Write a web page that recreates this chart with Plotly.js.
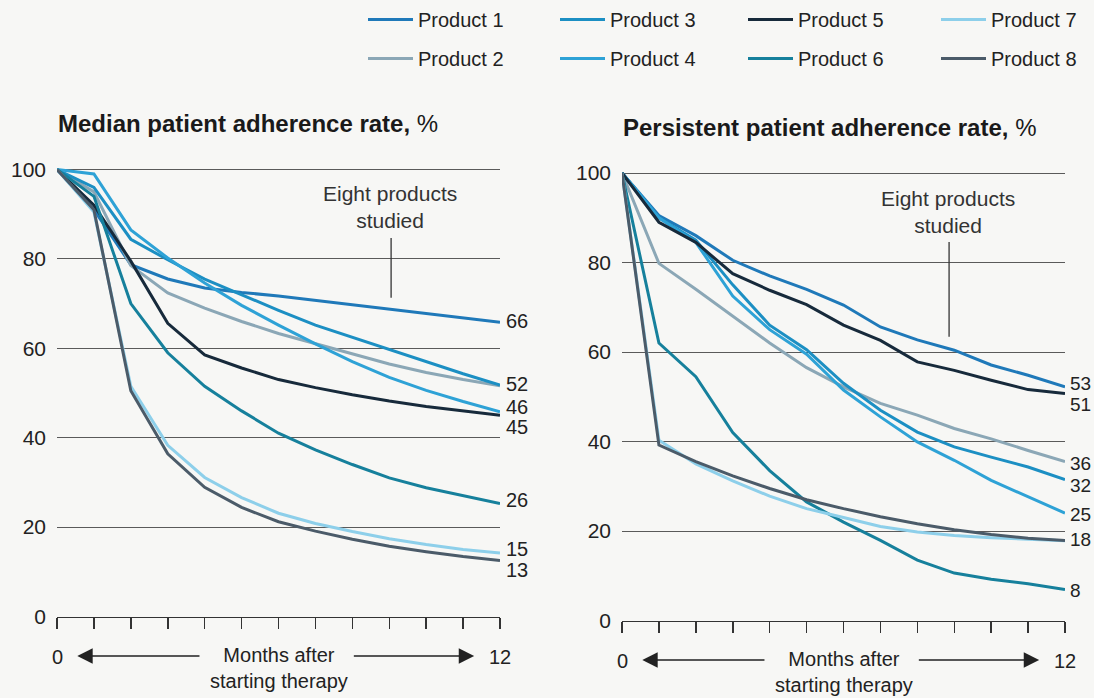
<!DOCTYPE html>
<html>
<head>
<meta charset="utf-8">
<script src="https://cdn.plot.ly/plotly-3.0.1.min.js"></script>
<style>
  html, body { margin: 0; padding: 0; background: #f7f7f5; }
  #chart { width: 1094px; height: 698px; }
</style>
</head>
<body>
<div id="chart"></div>
<script>
// ---------------- DATA ----------------
const months = [0, 1, 2, 3, 4, 5, 6, 7, 8, 9, 10, 11, 12];
const productNames = ['Product 1', 'Product 2', 'Product 3', 'Product 4', 'Product 5', 'Product 6', 'Product 7', 'Product 8'];

// Median patient adherence rate, %
const medianP1 = [100, 91, 78.7, 75.5, 73.5, 72.5, 71.7, 70.7, 69.7, 68.7, 67.7, 66.7, 65.8];
const medianP2 = [100, 95, 78.5, 72.4, 69, 66, 63.3, 61, 58.7, 56.5, 54.6, 53, 51.6];
const medianP3 = [100, 96, 84.4, 79.8, 75.5, 72, 68.5, 65.2, 62.5, 59.8, 57, 54.3, 51.8];
const medianP4 = [100, 99, 86.5, 80.2, 74.6, 69.6, 65.2, 61, 57, 53.5, 50.6, 48.1, 45.8];
const medianP5 = [100, 92, 79.5, 65.6, 58.5, 55.6, 53, 51.2, 49.6, 48.2, 47, 46, 45];
const medianP6 = [100, 94, 70, 59, 51.5, 46, 41, 37.3, 34, 31, 28.8, 27, 25.3];
const medianP7 = [100, 90.5, 51.5, 38.3, 31.1, 26.6, 23.1, 20.8, 19, 17.4, 16.1, 15, 14.2];
const medianP8 = [100, 91, 50.5, 36.4, 28.9, 24.4, 21.2, 19.1, 17.3, 15.7, 14.5, 13.4, 12.5];

// Persistent patient adherence rate, %
const persistentP1 = [100, 90.5, 86, 80.5, 77, 74, 70.5, 65.6, 62.7, 60.4, 57.1, 54.8, 52.2];
const persistentP2 = [100, 79.8, 74, 68, 62, 56.5, 52.2, 48.5, 45.9, 42.9, 40.6, 38, 35.5];
const persistentP3 = [100, 90, 85, 75, 66, 60.5, 53, 47, 42.1, 38.8, 36.5, 34.3, 31.5];
const persistentP4 = [100, 90, 84.5, 72.5, 65, 59.5, 51.5, 45.5, 39.9, 35.8, 31.3, 27.6, 24];
const persistentP5 = [100, 89, 84.5, 77.5, 73.8, 70.6, 66, 62.6, 57.8, 55.9, 53.7, 51.6, 50.7];
const persistentP6 = [100, 62, 54.5, 42, 33.5, 26.5, 22, 17.9, 13.5, 10.6, 9.2, 8.2, 6.9];
const persistentP7 = [100, 40.3, 35, 31.2, 27.8, 25, 23, 21, 19.8, 19, 18.5, 18.1, 17.8];
const persistentP8 = [100, 39.2, 35.5, 32.3, 29.5, 27, 25, 23.2, 21.6, 20.3, 19.2, 18.4, 17.9];

const medianEndLabels = ['66', '52', '46', '45', '26', '15', '13'];
const persistentEndLabels = ['53', '51', '36', '32', '25', '18', '8'];
const yTickValues = [0, 20, 40, 60, 80, 100];
const monthTicks = months;

const medianSeries = [medianP1, medianP2, medianP3, medianP4, medianP5, medianP6, medianP7, medianP8];
const persistentSeries = [persistentP1, persistentP2, persistentP3, persistentP4, persistentP5, persistentP6, persistentP7, persistentP8];

// ---------------- STYLE ----------------
const FONT = 'Liberation Sans, Arial, Helvetica, sans-serif';
const TXT = '#222222';
const colors = ['#1f79b9', '#8ba7b6', '#1c8fc3', '#2ea2d6', '#172a3b', '#16809c', '#8dcfea', '#4b5b69'];
// vertical pixel nudges for end labels (layout only)
const medianLabelShift = [0, 0, 4, -12, 0, 0, -12];
const persistentLabelShift = [0, -12, -4, -8, -6, 0, -6];
// legend column for each product (4 columns x 2 rows)
const legendIds = ['legend', 'legend', 'legend2', 'legend2', 'legend3', 'legend3', 'legend4', 'legend4'];

const W = 1094, H = 698;
const px = v => v / W;
const py = v => 1 - v / H;

const traces = [];
productNames.forEach((name, i) => {
  traces.push({
    x: months, y: medianSeries[i], xaxis: 'x', yaxis: 'y',
    type: 'scatter', mode: 'lines', name: name,
    legend: legendIds[i], legendgroup: name, showlegend: true,
    line: { color: colors[i], width: 3 }, hoverinfo: 'skip'
  });
});
productNames.forEach((name, i) => {
  traces.push({
    x: months, y: persistentSeries[i], xaxis: 'x2', yaxis: 'y2',
    type: 'scatter', mode: 'lines', name: name,
    legendgroup: name, showlegend: false,
    line: { color: colors[i], width: 3 }, hoverinfo: 'skip'
  });
});

function xAxis(domain, anchor) {
  return {
    domain: domain, anchor: anchor, range: [0, 12], fixedrange: true,
    showgrid: false, zeroline: false, showline: true, linecolor: '#333', linewidth: 1.5,
    ticks: 'outside', ticklen: 11, tickwidth: 1.5, tickcolor: '#333',
    tickvals: monthTicks, showticklabels: false
  };
}
function yAxis(domain, anchor) {
  return {
    domain: domain, anchor: anchor, range: [0, 102], fixedrange: true,
    tickvals: yTickValues, showgrid: true, gridcolor: '#5a5a5a', gridwidth: 1,
    zeroline: false, showline: false, ticks: '', ticklabelstandoff: 10,
    tickfont: { family: FONT, size: 21, color: TXT }
  };
}

const annotations = [];
const ann = (o) => annotations.push(Object.assign({
  showarrow: false, font: { family: FONT, size: 20, color: TXT }
}, o));

// Panel titles
ann({ xref: 'paper', yref: 'paper', x: px(56), y: py(124), xanchor: 'left', yanchor: 'middle',
  text: '<b>Median patient adherence rate,</b> %', font: { family: FONT, size: 24, color: '#1a1a1a' } });
ann({ xref: 'paper', yref: 'paper', x: px(621), y: py(128), xanchor: 'left', yanchor: 'middle',
  text: '<b>Persistent patient adherence rate,</b> %', font: { family: FONT, size: 24, color: '#1a1a1a' } });

// "Eight products studied"
ann({ xref: 'x', yref: 'y', x: 9.02, y: 91.6, xanchor: 'center', yanchor: 'middle', text: 'Eight products<br>studied', font: { family: FONT, size: 21, color: '#333' } });
ann({ xref: 'x2', yref: 'y2', x: 8.83, y: 91.3, xanchor: 'center', yanchor: 'middle', text: 'Eight products<br>studied', font: { family: FONT, size: 21, color: '#333' } });

// End labels
medianEndLabels.forEach((t, i) => ann({ xref: 'x', yref: 'y', x: 12, y: Number(t), xanchor: 'left', yanchor: 'middle', xshift: 4, yshift: medianLabelShift[i], text: t }));
persistentEndLabels.forEach((t, i) => ann({ xref: 'x2', yref: 'y2', x: 12, y: Number(t), xanchor: 'left', yanchor: 'middle', xshift: 3, yshift: persistentLabelShift[i], text: t, font: { family: FONT, size: 19, color: TXT } }));

// Bottom axis captions
[['x', 657, 668], ['x2', 661, 672]].forEach(([xr, yRow, yText]) => {
  ann({ xref: xr, yref: 'paper', x: 0, y: py(yRow), xanchor: 'center', yanchor: 'middle', text: '0' });
  ann({ xref: xr, yref: 'paper', x: 12, y: py(yRow), xanchor: 'center', yanchor: 'middle', text: '12' });
  ann({ xref: xr, yref: 'paper', x: 6, y: py(yText), xanchor: 'center', yanchor: 'middle', text: 'Months after<br>starting therapy' });
  annotations.push({ xref: xr, yref: 'paper', x: 0.55, y: py(yRow - 1), axref: xr, ax: 3.9, ayref: 'pixel', ay: 0, text: '', showarrow: true, arrowhead: 2, arrowsize: 2.2, arrowwidth: 1.4, arrowcolor: '#222' });
  annotations.push({ xref: xr, yref: 'paper', x: 11.3, y: py(yRow - 1), axref: xr, ax: 8.0, ayref: 'pixel', ay: 0, text: '', showarrow: true, arrowhead: 2, arrowsize: 2.2, arrowwidth: 1.4, arrowcolor: '#222' });
});

const shapes = [
  { type: 'line', xref: 'x', yref: 'y', x0: 9.05, x1: 9.05, y0: 84.7, y1: 71.3, line: { color: '#333', width: 1.3 } },
  { type: 'line', xref: 'x2', yref: 'y2', x0: 8.86, x1: 8.86, y0: 84.6, y1: 63.4, line: { color: '#333', width: 1.3 } }
];

const legendBase = {
  orientation: 'v', xanchor: 'left', yanchor: 'top', y: py(0),
  font: { family: FONT, size: 20, color: TXT }, bgcolor: 'rgba(0,0,0,0)',
  itemwidth: 45, tracegroupgap: 10, itemclick: false, itemdoubleclick: false
};

const layout = {
  width: W, height: H,
  margin: { l: 0, r: 0, t: 0, b: 0 },
  paper_bgcolor: '#f7f7f5', plot_bgcolor: '#f7f7f5',
  font: { family: FONT, color: TXT },
  showlegend: true,
  legend: Object.assign({}, legendBase, { x: px(363) }),
  legend2: Object.assign({}, legendBase, { x: px(555) }),
  legend3: Object.assign({}, legendBase, { x: px(743) }),
  legend4: Object.assign({}, legendBase, { x: px(936) }),
  xaxis: xAxis([px(57), px(500)], 'y'),
  yaxis: yAxis([1 - 616.5 / H, 1 - 160.56 / H], 'x'),
  xaxis2: xAxis([px(622), px(1065)], 'y2'),
  yaxis2: yAxis([1 - 620.5 / H, 1 - 164.05 / H], 'x2'),
  annotations: annotations,
  shapes: shapes
};

Plotly.newPlot('chart', traces, layout, { displayModeBar: false, staticPlot: true });
</script>
</body>
</html>
